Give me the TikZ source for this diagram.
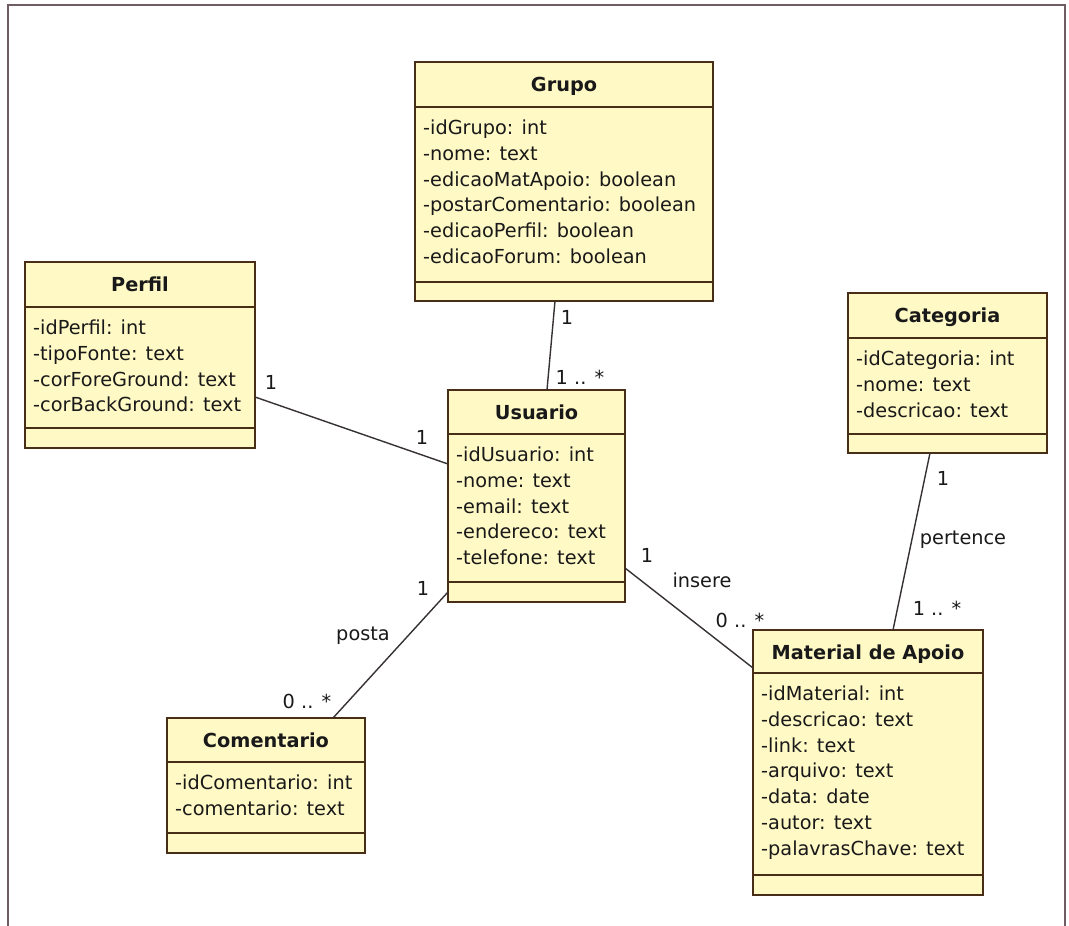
\documentclass[tikz,border=0pt]{standalone}
\usepackage{fontspec}
\setmainfont{DejaVu Sans}
\usetikzlibrary{calc}

\definecolor{classfill}{RGB}{255,249,198}
\definecolor{classline}{RGB}{72,46,22}
\definecolor{linkline}{RGB}{55,50,50}
\definecolor{framecol}{RGB}{112,92,100}

\tikzset{
  classbox/.style={draw=classline, fill=classfill, line width=2pt,
    inner sep=0pt, outer sep=0pt, anchor=north west},
  classsep/.style={draw=classline, line width=2pt},
  classtitle/.style={font=\fontsize{19.3}{23}\selectfont\bfseries,
    inner sep=0pt, anchor=base, text=black!90},
  attrtext/.style={font=\fontsize{19.3}{23}\selectfont,
    inner sep=0pt, anchor=base west, text=black!90},
  assoc/.style={draw=linkline, line width=1.4pt},
  multlabel/.style={font=\fontsize{19.3}{23}\selectfont,
    inner sep=0pt, text=black!90},
}

% #1 name, #2 left, #3 top, #4 right, #5 header rule, #6 attribute rule,
% #7 bottom, #8 title, #9 comma separated attributes
\newcommand\umlclass[9]{%
  \node[classbox, minimum width={(#4-#2)*1pt}, minimum height={(#7-#3)*1pt}]
    (#1) at (#2,#3) {};
  \draw[classsep] (#2,#5) -- (#4,#5);
  \draw[classsep] (#2,#6) -- (#4,#6);
  \node[classtitle] (#1-title) at ({(#2+#4)/2},{#3+29}) {#8};
  \foreach \attr [count=\k from 0] in {#9}{%
    \node[attrtext] (#1-attr\k) at ({#2+8},{#5+27.5+\k*25.8}) {\attr};
  }%
}

\begin{document}
\begin{tikzpicture}[x=1pt, y=-1pt]
\useasboundingbox (0,0) rectangle (1069,926);
\fill[white] (0,0) rectangle (1069,926);

% outer frame
\draw[framecol, line width=2.5pt] (8,926) -- (8,5) -- (1065,5) -- (1065,926);

% classes
\umlclass{grupo}{415}{62}{713}{107}{282}{301}{Grupo}
  {-idGrupo: int, -nome: text, -edicaoMatApoio: boolean,
   -postarComentario: boolean, -edicaoPerfil: boolean, -edicaoForum: boolean}
\umlclass{perfil}{25}{262}{255}{307}{428}{448}{Perfil}
  {-idPerfil: int, -tipoFonte: text, -corForeGround: text, -corBackGround: text}
\umlclass{usuario}{448}{390}{625}{434}{582}{602}{Usuario}
  {-idUsuario: int, -nome: text, -email: text, -endereco: text, -telefone: text}
\umlclass{categoria}{848}{293}{1047}{338}{434}{453}{Categoria}
  {-idCategoria: int, -nome: text, -descricao: text}
\umlclass{comentario}{167}{718}{365}{762}{833}{853}{Comentario}
  {-idComentario: int, -comentario: text}
\umlclass{material}{753}{630}{983}{673}{875}{895}{Material de Apoio}
  {-idMaterial: int, -descricao: text, -link: text, -arquivo: text,
   -data: date, -autor: text, -palavrasChave: text}

% associations
\draw[assoc] ([xshift=140pt]grupo.south west) -- ([xshift=99pt]usuario.north west);
\draw[assoc] ([yshift=-135pt]perfil.north east) -- ([yshift=-74pt]usuario.north west);
\draw[assoc] ([yshift=10pt]usuario.south west) -- ([xshift=166pt]comentario.north west);
\draw[assoc] ([yshift=34pt]usuario.south east) -- ([yshift=-38pt]material.north west);
\draw[assoc] ([xshift=82pt]categoria.south west) -- ([xshift=140pt]material.north west);

% multiplicities and role names
\node[multlabel] (m-gu1) at (567,317) {1};
\node[multlabel] (m-gu2) at (580,377) {1 .. *};
\node[multlabel] (m-pu1) at (271,382) {1};
\node[multlabel] (m-pu2) at (422,437) {1};
\node[multlabel] (m-uc1) at (423,588) {1};
\node[multlabel] (n-posta) at (363,636) {posta};
\node[multlabel] (m-uc2) at (307,701) {0 .. *};
\node[multlabel] (m-um1) at (647,555) {1};
\node[multlabel] (n-insere) at (702,580) {insere};
\node[multlabel] (m-um2) at (740,620) {0 .. *};
\node[multlabel] (m-cm1) at (943,478) {1};
\node[multlabel] (n-pertence) at (963,540) {pertence};
\node[multlabel] (m-cm2) at (937,608) {1 .. *};
\end{tikzpicture}
\end{document}
